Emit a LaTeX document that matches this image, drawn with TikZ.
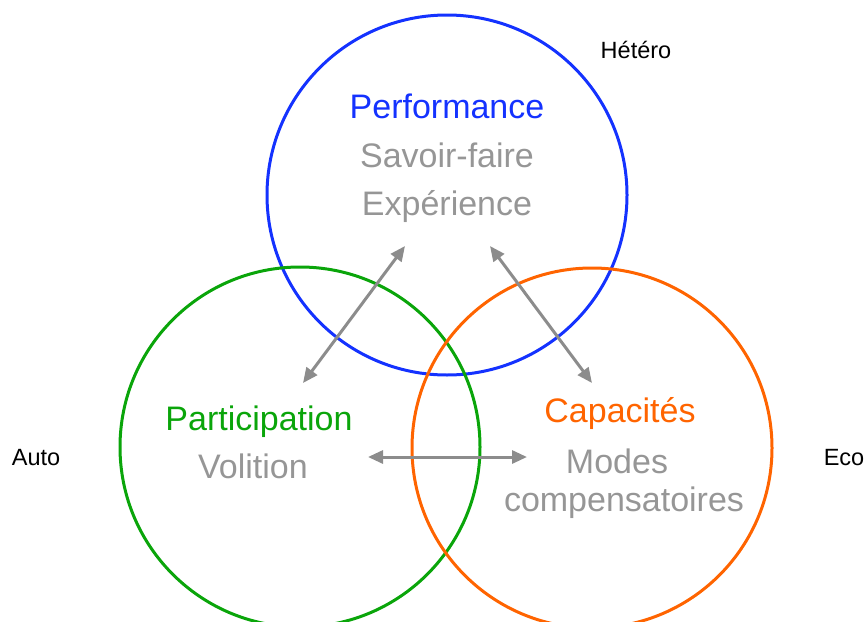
\documentclass[tikz,border=0pt]{standalone}
\usepackage{fontspec}
\setmainfont{Liberation Sans}
\usepackage{tikz}
\usetikzlibrary{arrows.meta}
\definecolor{perfblue}{RGB}{20,50,255}
\definecolor{partgreen}{RGB}{10,165,10}
\definecolor{capaorange}{RGB}{255,100,0}
\definecolor{subgray}{RGB}{150,150,150}
\definecolor{linkgray}{RGB}{140,140,140}
\tikzstyle{ring} = [line width=3pt]
\tikzstyle{big} = [font=\fontsize{34}{40}\selectfont, inner sep=0pt, anchor=base]
\tikzstyle{small} = [font=\fontsize{23.5}{28}\selectfont, inner sep=0pt, anchor=base]
\tikzstyle{twoway} = [draw=linkgray, line width=3pt, {Triangle[length=15pt,width=13pt]}-{Triangle[length=15pt,width=13pt]}]

\begin{document}
\begin{tikzpicture}[x=1pt,y=-1pt]
\useasboundingbox (0,0) rectangle (864,621);
\draw[ring, perfblue] (447,195) circle (180);
\draw[ring, partgreen] (300,447) circle (180);
\draw[ring, capaorange] (592,448) circle (180);
\draw (447,118) node[big, text=perfblue] (performance) {Performance};
\draw (447,167) node[big, text=subgray] (savoir) {Savoir-faire};
\draw (447,215) node[big, text=subgray] (experience) {Expérience};
\draw (259,430) node[big, text=partgreen] (participation) {Participation};
\draw (253,478) node[big, text=subgray] (volition) {Volition};
\draw (620,422) node[big, text=capaorange] (capacites) {Capacités};
\draw (617,473) node[big, text=subgray] (modes) {Modes};
\draw (624,511) node[big, text=subgray] (compens) {compensatoires};
\draw (636,58) node[small] (hetero) {Hétéro};
\draw (36,465) node[small] (auto) {Auto};
\draw (844,465) node[small] (eco) {Eco};
\coordinate (perfL) at (405,246);
\coordinate (perfR) at (490,246);
\coordinate (partT) at (303,383);
\coordinate (capaT) at (592,383);
\coordinate (partR) at (368,457);
\coordinate (capaL) at (527,457);
\draw[twoway, linkgray] (perfL) -- (partT);
\draw[twoway, linkgray] (perfR) -- (capaT);
\draw[twoway, linkgray] (partR) -- (capaL);
\end{tikzpicture}
\end{document}
